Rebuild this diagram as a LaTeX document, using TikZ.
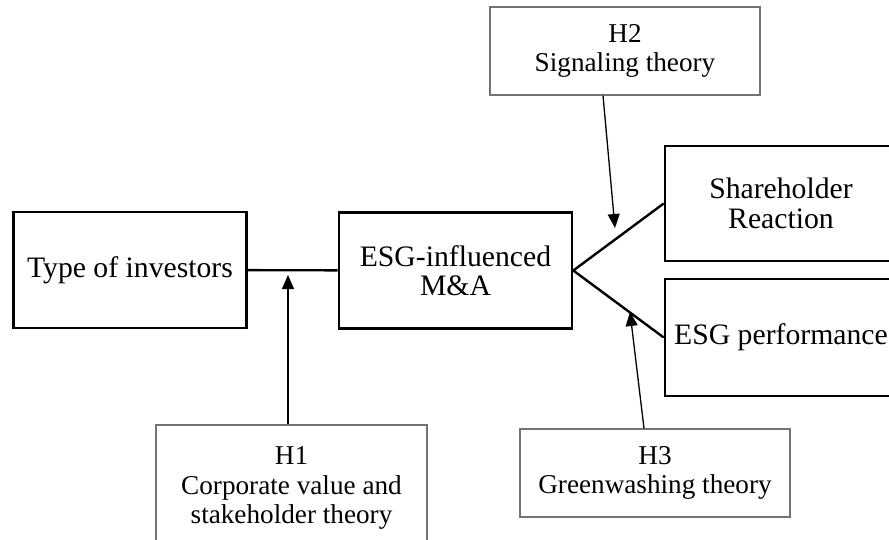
\documentclass[tikz,border=0pt]{standalone}
\usepackage{fontspec}
\setmainfont{Liberation Serif}
\usepackage{tikz}
\usetikzlibrary{arrows.meta}

\begin{document}
\begin{tikzpicture}[x=1pt, y=-1pt, >={Triangle[length=14pt, width=12pt]},
        every node/.style={align=center, inner sep=0pt},
        mainbox/.style={draw, line width=2.6pt, minimum width=233pt, minimum height=116pt,
          font=\fontsize{29.7}{29.5}\selectfont},
        hypbox/.style={draw=black!55, line width=1.2pt, minimum width=270pt, minimum height=88pt,
          font=\fontsize{27.2}{29.5}\selectfont},
        link/.style={line width=2.4pt},
        hyparrow/.style={->, line width=1.3pt}]
        \useasboundingbox (0,0) rectangle (889,540);
        \clip (0,0) rectangle (889,540);
        % main chain
        \node[mainbox] (T) at (130, 270) {Type of investors};
        \node[mainbox] (E) at (455.5, 270.5) {ESG-influenced\\M\&A};
        \node[mainbox, minimum width=232pt, minimum height=115pt] (S) at (781, 203.5) {Shareholder\\Reaction};
        \node[mainbox, minimum width=232pt, minimum height=117pt] (P) at (781, 337.5) {ESG performance};
        % hypotheses
        \node[hypbox] (H2) at (625, 51) {H2\\Signaling theory};
        \node[hypbox, minimum width=271pt, minimum height=126pt] (H1) at (291.5, 488) {H1\\Corporate value and\\stakeholder theory};
        \node[hypbox] (H3) at (655, 473) {H3\\Greenwashing theory};
        \coordinate (t1) at (288, 275);
        \coordinate (t2) at (615, 228);
        \coordinate (t3) at (630, 312);
        \draw[link] (T) -- (E);
        \draw[link] (E.east) -- (S.west);
        \draw[link] (E.east) -- (P.west);
        \draw[hyparrow] (H1.north -| t1) -- (t1);
        \draw[hyparrow] ([xshift=-22pt]H2.south) -- (t2);
        \draw[hyparrow] ([xshift=-11pt]H3.north) -- (t3);
\end{tikzpicture}
\end{document}
